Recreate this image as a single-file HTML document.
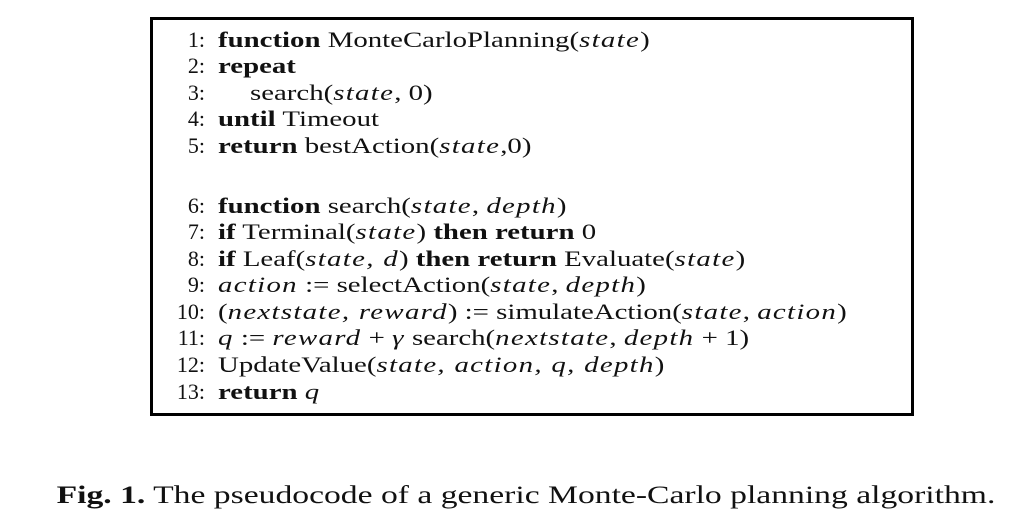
<!DOCTYPE html>
<html><head><meta charset="utf-8"><style>
body{margin:0;width:1026px;height:527px;background:#fff;position:relative;overflow:hidden;font-family:"Liberation Serif",serif;color:#111}
#box{position:absolute;left:150px;top:17px;width:758px;height:393px;border:3px solid #000}
.l{position:absolute;font-size:22px;line-height:26px;white-space:nowrap}
.n{position:absolute;width:60px;text-align:right;left:145px}
.t{position:absolute;left:218px;transform:scaleX(1.31);transform-origin:left center}
i{font-style:italic;letter-spacing:1px}
#cap{position:absolute;left:13px;width:1026px;text-align:center;top:481px;font-size:25px;line-height:30px;white-space:nowrap}
#cap span{display:inline-block;transform:scaleX(1.345);transform-origin:center}
</style></head><body>
<div id="box"></div>
<div id="code">
<div class="l" style="top:27px"><span class="n">1:</span><span class="t"><b>function</b> MonteCarloPlanning(<i>state</i>)</span></div>
<div class="l" style="top:53px"><span class="n">2:</span><span class="t"><b>repeat</b></span></div>
<div class="l" style="top:80px"><span class="n">3:</span><span class="t" style="left:250px">search(<i>state</i>, 0)</span></div>
<div class="l" style="top:106px"><span class="n">4:</span><span class="t"><b>until</b> Timeout</span></div>
<div class="l" style="top:133px"><span class="n">5:</span><span class="t"><b>return</b> bestAction(<i>state</i>,0)</span></div>
<div class="l" style="top:193px"><span class="n">6:</span><span class="t"><b>function</b> search(<i>state</i>, <i>depth</i>)</span></div>
<div class="l" style="top:219px"><span class="n">7:</span><span class="t"><b>if</b> Terminal(<i>state</i>) <b>then return</b> 0</span></div>
<div class="l" style="top:246px"><span class="n">8:</span><span class="t"><b>if</b> Leaf(<i>state, d</i>) <b>then return</b> Evaluate(<i>state</i>)</span></div>
<div class="l" style="top:272px"><span class="n">9:</span><span class="t"><i>action</i> := selectAction(<i>state</i>, <i>depth</i>)</span></div>
<div class="l" style="top:299px"><span class="n">10:</span><span class="t">(<i>nextstate, reward</i>) := simulateAction(<i>state</i>, <i>action</i>)</span></div>
<div class="l" style="top:325px"><span class="n">11:</span><span class="t"><i>q</i> := <i>reward</i> + <i>γ</i> search(<i>nextstate</i>, <i>depth</i> + 1)</span></div>
<div class="l" style="top:352px"><span class="n">12:</span><span class="t">UpdateValue(<i>state, action, q, depth</i>)</span></div>
<div class="l" style="top:379px"><span class="n">13:</span><span class="t"><b>return</b> <i>q</i></span></div>
</div>
<div id="cap"><span><b>Fig. 1.</b> The pseudocode of a generic Monte-Carlo planning algorithm.</span></div>
</body></html>
